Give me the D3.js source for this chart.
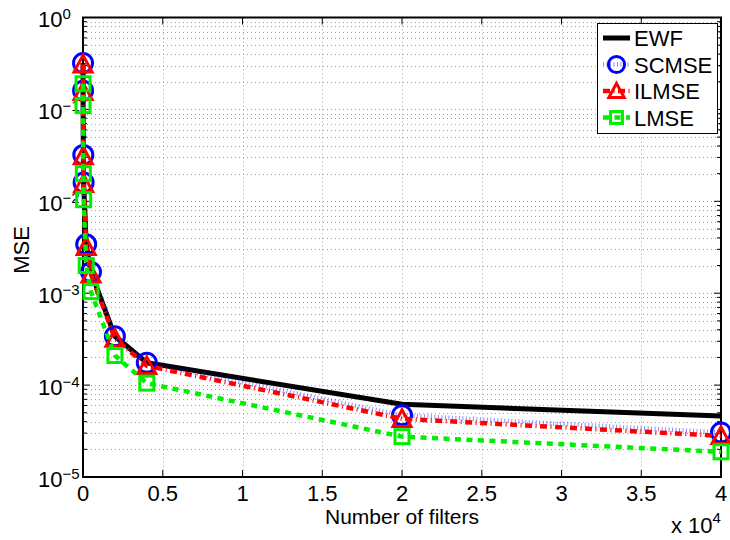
<!DOCTYPE html>
<head>
  <meta charset="utf-8">
  <script src="https://d3js.org/d3.v7.min.js"></script>
  <style>
    body { margin:0; padding:0; background:#fff; }
    text { font-family: "Liberation Sans", Arial, Helvetica, sans-serif; fill:#000; }
  </style>
</head>
<body>
  <script>
    // number of filters (raw), shown on the axis in units of 1e4
    var filters = [2, 4, 20, 40, 200, 500, 2000, 4000, 20000, 40000];
    var ewf   = [0.32, 0.16, 0.032, 0.016, 0.0034, 0.0017, 3.4e-4, 1.75e-4, 6.2e-5, 4.6e-5];
    var scmse = [0.32, 0.16, 0.032, 0.016, 0.0034, 0.0017, 3.4e-4, 1.75e-4, 4.7e-5, 3.05e-5];
    var ilmse = [0.31, 0.155, 0.031, 0.0155, 0.0032, 0.0016, 3.2e-4, 1.62e-4, 4.3e-5, 2.8e-5];
    var lmse  = [0.19, 0.11, 0.02, 0.0104, 0.002, 0.00104, 2.1e-4, 1.05e-4, 2.75e-5, 1.88e-5];
    var seriesNames = ["EWF", "SCMSE", "ILMSE", "LMSE"];
    var xTicks = [0, 5000, 10000, 15000, 20000, 25000, 30000, 35000, 40000];
    var yTicks = [1e0, 1e-1, 1e-2, 1e-3, 1e-4, 1e-5];
    var yTickExp = ["0", "\u22121", "\u22122", "\u22123", "\u22124", "\u22125"];

    var width = 730, height = 540;
    var margin = {top: 17.5, right: 9, bottom: 63, left: 83};

    var svg = d3.select("body").append("svg")
      .attr("width", width)
      .attr("height", height);

    var x = d3.scaleLinear().domain([0, 40000]).range([margin.left, width - margin.right]);
    var y = d3.scaleLog().domain([1e-5, 1]).range([height - margin.bottom, margin.top]);

    var x0 = x.range()[0], x1 = x.range()[1], y0 = y.range()[0], y1 = y.range()[1];

    // minor log values
    var minor = [];
    for (var e = -5; e < 0; e++) {
      for (var m = 2; m <= 9; m++) minor.push(m * Math.pow(10, e));
    }

    // grid
    var grid = svg.append("g").attr("stroke", "#a0a0a0").attr("stroke-width", 1)
      .attr("stroke-dasharray", "1,3").attr("fill", "none");
    grid.selectAll("line.gx").data(xTicks.slice(1, -1)).enter().append("line")
      .attr("x1", function(d) { return Math.round(x(d)) + 0.5; })
      .attr("x2", function(d) { return Math.round(x(d)) + 0.5; })
      .attr("y1", y1).attr("y2", y0);
    grid.selectAll("line.gy").data(yTicks.slice(1, -1).concat(minor)).enter().append("line")
      .attr("y1", function(d) { return Math.round(y(d)) + 0.5; })
      .attr("y2", function(d) { return Math.round(y(d)) + 0.5; })
      .attr("x1", x0).attr("x2", x1);

    // ticks (inside, both sides)
    var ticks = svg.append("g").attr("stroke", "#000").attr("stroke-width", 1);
    xTicks.forEach(function(d) {
      ticks.append("line").attr("x1", x(d)).attr("x2", x(d)).attr("y1", y0).attr("y2", y0 - 7);
      ticks.append("line").attr("x1", x(d)).attr("x2", x(d)).attr("y1", y1).attr("y2", y1 + 7);
    });
    yTicks.forEach(function(d) {
      ticks.append("line").attr("x1", x0).attr("x2", x0 + 7).attr("y1", y(d)).attr("y2", y(d));
      ticks.append("line").attr("x1", x1).attr("x2", x1 - 7).attr("y1", y(d)).attr("y2", y(d));
    });
    minor.forEach(function(d) {
      ticks.append("line").attr("x1", x0).attr("x2", x0 + 4).attr("y1", y(d)).attr("y2", y(d));
      ticks.append("line").attr("x1", x1).attr("x2", x1 - 4).attr("y1", y(d)).attr("y2", y(d));
    });

    // box
    svg.append("rect").attr("x", x0).attr("y", y1).attr("width", x1 - x0).attr("height", y0 - y1)
      .attr("fill", "none").attr("stroke", "#000").attr("stroke-width", 2);

    // tick labels
    svg.selectAll("text.xt").data(xTicks).enter().append("text")
      .attr("x", function(d) { return x(d); })
      .attr("y", y0 + 23.5)
      .attr("text-anchor", "middle")
      .attr("font-size", 22)
      .text(function(d) { return d3.format("")(d / 1e4); });

    var yl = svg.selectAll("text.yt").data(yTicks).enter().append("text")
      .attr("x", 38)
      .attr("y", function(d) { return y(d) + 9.5; })
      .attr("font-size", 22);
    yl.append("tspan").text("10");
    yl.append("tspan").attr("dy", -8).attr("font-size", 15)
      .text(function(d, i) { return yTickExp[i]; });

    // axis titles
    svg.append("text").attr("x", (x0 + x1) / 2).attr("y", 524)
      .attr("text-anchor", "middle").attr("font-size", 21).text("Number of filters");
    svg.append("text").attr("transform", "translate(29,250) rotate(-90)")
      .attr("text-anchor", "middle").attr("font-size", 22).text("MSE");
    var mult = svg.append("text").attr("x", 671).attr("y", 533).attr("font-size", 22);
    mult.append("tspan").text("x 10");
    mult.append("tspan").attr("dy", -10).attr("font-size", 15).text("4");

    // series
    var line = d3.line()
      .x(function(d) { return x(d[0]); })
      .y(function(d) { return y(d[1]); });

    var styles = [
      {color: "#000", width: 5, dash: null, opacity: 1, marker: null},
      {color: "#0000ff", width: 4.5, dash: "1,2.5", opacity: 0.45, marker: "circle"},
      {color: "#ff0000", width: 4.5, dash: "7,3.5,1,3.5", opacity: 1, marker: "triangle"},
      {color: "#00ee00", width: 4.5, dash: "6,5.5", opacity: 1, marker: "square"}
    ];
    var values = [ewf, scmse, ilmse, lmse];

    function drawMarker(g, type, cx, cy, color, scale) {
      scale = scale || 1;
      if (type === "circle") {
        g.append("circle").attr("cx", cx).attr("cy", cy).attr("r", 9.5 * scale)
          .attr("fill", "none").attr("stroke", color).attr("stroke-width", 3);
      } else if (type === "triangle") {
        var s = 9 * scale;
        g.append("path")
          .attr("d", "M" + cx + "," + (cy - s) + "L" + (cx + s) + "," + (cy + s * 0.85) + "L" + (cx - s) + "," + (cy + s * 0.85) + "Z")
          .attr("fill", "none").attr("stroke", color).attr("stroke-width", 3).attr("stroke-linejoin", "miter");
      } else if (type === "square") {
        var h = 7 * scale;
        g.append("rect").attr("x", cx - h).attr("y", cy - h).attr("width", 2 * h).attr("height", 2 * h)
          .attr("fill", "none").attr("stroke", color).attr("stroke-width", 3);
      }
    }

    values.forEach(function(vals, k) {
      var st = styles[k];
      var pts = filters.map(function(f, i) { return [f, vals[i]]; });
      var g = svg.append("g");
      g.append("path").datum(pts)
        .attr("d", line)
        .attr("fill", "none")
        .attr("stroke", st.color)
        .attr("stroke-width", st.width)
        .attr("stroke-dasharray", st.dash)
        .attr("stroke-opacity", st.opacity)
        .attr("stroke-linejoin", "round");
      if (st.marker) {
        pts.forEach(function(p) { drawMarker(g, st.marker, x(p[0]), y(p[1]), st.color); });
      }
    });

    // legend
    var lg = svg.append("g");
    lg.append("rect").attr("x", 597.5).attr("y", 23.5).attr("width", 120).attr("height", 110)
      .attr("fill", "#fff").attr("stroke", "#000").attr("stroke-width", 1);
    seriesNames.forEach(function(name, k) {
      var st = styles[k], ly = 38 + k * 26.5;
      lg.append("line").attr("x1", 603).attr("x2", 630).attr("y1", ly).attr("y2", ly)
        .attr("stroke", st.color).attr("stroke-width", st.width)
        .attr("stroke-dasharray", st.dash).attr("stroke-opacity", st.opacity);
      if (st.marker) drawMarker(lg, st.marker, 616.5, ly, st.color, 0.85);
      lg.append("text").attr("x", 634).attr("y", ly + 8).attr("font-size", 22).text(name);
    });
  </script>
</body>
